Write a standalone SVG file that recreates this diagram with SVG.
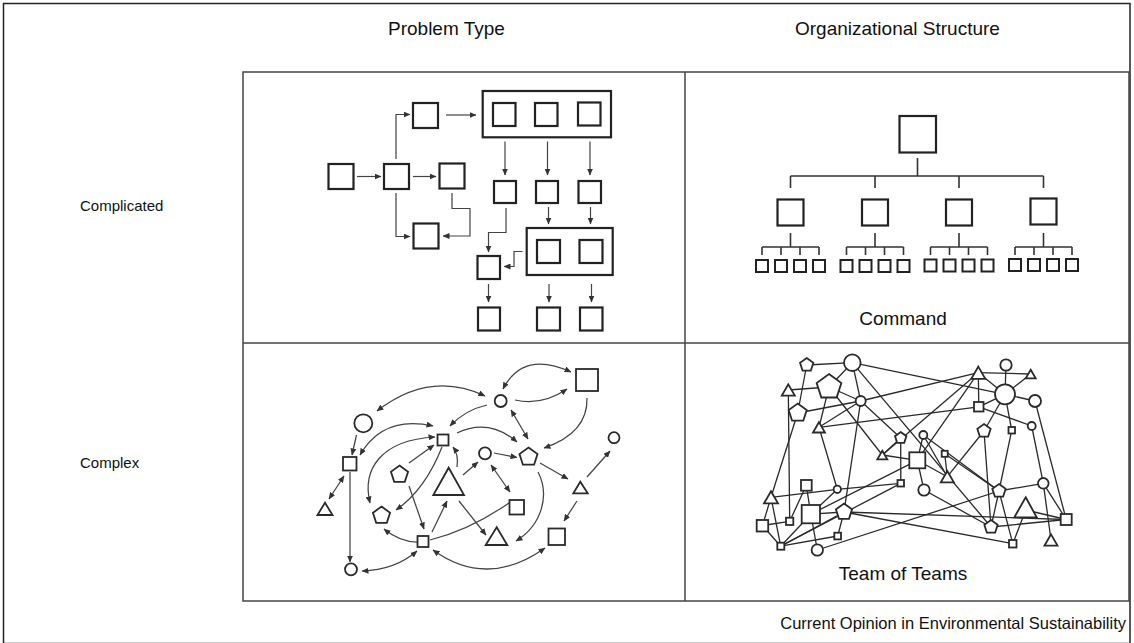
<svg xmlns="http://www.w3.org/2000/svg" width="1134" height="643" viewBox="0 0 1134 643">
  <style>
    .lbl { font-family: "Liberation Sans", Arial, Helvetica, sans-serif; font-size: 19px; fill: #111; }
    .row { font-family: "Liberation Sans", Arial, Helvetica, sans-serif; font-size: 15px; fill: #111; }
    .credit { font-family: "Liberation Sans", Arial, Helvetica, sans-serif; font-size: 16.5px; fill: #111; }
    .grid { fill: none; stroke: #444; stroke-width: 1.5; }
    .box { fill: #fff; stroke: #222; stroke-width: 2.2; }
    .sbox { fill: #fff; stroke: #222; stroke-width: 2; }
    .tree { fill: none; stroke: #333; stroke-width: 1.6; }
    .flow { fill: none; stroke: #444; stroke-width: 1.2; marker-end: url(#ah); }
    .shp { fill: #fff; stroke: #2a2a2a; stroke-width: 1.8; }
    .cur { fill: none; stroke: #444; stroke-width: 1.25; }
    .one { marker-end: url(#ah); }
    .two { marker-start: url(#ah); marker-end: url(#ah); }
    .net { stroke: #2a2a2a; stroke-width: 1.3; }
  </style>
  <defs>
    <marker id="ah" markerUnits="userSpaceOnUse" markerWidth="7" markerHeight="6" refX="6.5" refY="3" orient="auto-start-reverse">
      <path d="M0,0 L7,3 L0,6 z" fill="#333"/>
    </marker>
  </defs>

  <rect width="1134" height="643" fill="#fff"/>
  <!-- outer frame and table grid -->
  <rect x="3.5" y="3.5" width="1126.5" height="640" fill="none" stroke="#222" stroke-width="1.5"/>
  <g id="grid">
    <rect class="grid" x="243" y="72" width="886" height="529"/>
    <line class="grid" x1="685" y1="72" x2="685" y2="601"/>
    <line class="grid" x1="243" y1="343" x2="1129" y2="343"/>
  </g>

  <!-- headings -->
  <g id="headings">
    <text class="lbl" x="388" y="35">Problem Type</text>
    <text class="lbl" x="795" y="35">Organizational Structure</text>
    <text class="row" x="80" y="210.5">Complicated</text>
    <text class="row" x="80" y="467.5">Complex</text>
    <text class="credit" x="1126" y="629" text-anchor="end">Current Opinion in Environmental Sustainability</text>
  </g>

  <!-- complicated problem: flow of steps -->
  <g id="complicated-problem">
    <g id="cp-connectors">
      <path class="flow" d="M357,176.5 H381"/>
      <path class="flow" d="M413,176.5 H436"/>
      <path class="flow" d="M396,159 V114.5 H410"/>
      <path class="flow" d="M396,193 V236.5 H410"/>
      <path class="flow" d="M452,193 V208.5 H470 V236 H443"/>
      <path class="flow" d="M446,115 H476"/>
      <path class="flow" d="M505,141.5 V175"/>
      <path class="flow" d="M547.5,141.5 V175"/>
      <path class="flow" d="M590,141.5 V175"/>
      <path class="flow" d="M548.5,207 V224"/>
      <path class="flow" d="M590.5,207 V224"/>
      <path class="flow" d="M506,208 V232.5 H488.5 V252"/>
      <path class="flow" d="M522.5,251.5 H514 V266.5 H504"/>
      <path class="flow" d="M488.5,284 V302"/>
      <path class="flow" d="M549,284 V302"/>
      <path class="flow" d="M591.5,284 V302"/>
    </g>
    <g id="cp-nodes">
      <rect class="box" x="328.5" y="164" width="25" height="25"/>
      <rect class="box" x="384" y="164" width="25" height="25"/>
      <rect class="box" x="439.5" y="163.5" width="25" height="25"/>
      <rect class="box" x="413" y="103" width="25" height="25"/>
      <rect class="box" x="413.5" y="223.5" width="25" height="25"/>
      <rect class="box" x="482.7" y="91" width="128.3" height="46.3"/>
      <rect class="box" x="493" y="103" width="22.5" height="23"/>
      <rect class="box" x="535" y="103" width="22.5" height="23"/>
      <rect class="box" x="578" y="102.5" width="22.5" height="23"/>
      <rect class="box" x="494" y="181" width="22" height="22"/>
      <rect class="box" x="536" y="181" width="22" height="22"/>
      <rect class="box" x="578.5" y="181" width="22.5" height="22"/>
      <rect class="box" x="526.7" y="228" width="86" height="47"/>
      <rect class="box" x="537" y="240" width="23" height="23"/>
      <rect class="box" x="579.5" y="240" width="23" height="23"/>
      <rect class="box" x="477.5" y="256" width="22.5" height="23"/>
      <rect class="box" x="478" y="307.5" width="22" height="23"/>
      <rect class="box" x="537" y="307.5" width="23" height="23"/>
      <rect class="box" x="580" y="307.5" width="22.5" height="23"/>
    </g>
  </g>

  <!-- command hierarchy -->
  <g id="command">
    <g id="cmd-connectors">
      <path class="tree" d="M917.5,158 V176 M790.5,176 H1043.5 M790.5,176 V188 M875,176 V188 M959,176 V188 M1043.5,176 V188"/>
      <path class="tree" d="M790.5,233 V247 M762,247 H819 M762,247 V255 M781,247 V255 M800,247 V255 M819,247 V255"/>
      <path class="tree" d="M875,233 V247 M846.5,247 H903.5 M846.5,247 V255 M865.5,247 V255 M884.5,247 V255 M903.5,247 V255"/>
      <path class="tree" d="M959,233 V247 M930.5,247 H987.5 M930.5,247 V255 M949.5,247 V255 M968.5,247 V255 M987.5,247 V255"/>
      <path class="tree" d="M1043.5,233 V247 M1015,247 H1072 M1015,247 V255 M1034,247 V255 M1053,247 V255 M1072,247 V255"/>
    </g>
    <g id="cmd-nodes">
      <rect class="box" x="899.5" y="116" width="36.5" height="36.5"/>
      <rect class="box" x="777.5" y="199.5" width="26" height="26"/>
      <rect class="box" x="862" y="199.5" width="26" height="26"/>
      <rect class="box" x="946" y="199.5" width="26" height="26"/>
      <rect class="box" x="1030.5" y="198.5" width="26" height="26"/>
      <rect class="sbox" x="756" y="260" width="12" height="12"/>
      <rect class="sbox" x="775" y="260" width="12" height="12"/>
      <rect class="sbox" x="794" y="260" width="12" height="12"/>
      <rect class="sbox" x="813" y="260" width="12" height="12"/>
      <rect class="sbox" x="840.5" y="260" width="12" height="12"/>
      <rect class="sbox" x="859.5" y="260" width="12" height="12"/>
      <rect class="sbox" x="878.5" y="260" width="12" height="12"/>
      <rect class="sbox" x="897.5" y="260" width="12" height="12"/>
      <rect class="sbox" x="924.5" y="259.5" width="12" height="12"/>
      <rect class="sbox" x="943.5" y="259.5" width="12" height="12"/>
      <rect class="sbox" x="962.5" y="259.5" width="12" height="12"/>
      <rect class="sbox" x="981.5" y="259.5" width="12" height="12"/>
      <rect class="sbox" x="1009" y="259" width="12" height="12"/>
      <rect class="sbox" x="1028" y="259" width="12" height="12"/>
      <rect class="sbox" x="1047" y="259" width="12" height="12"/>
      <rect class="sbox" x="1066" y="259" width="12" height="12"/>
    </g>
    <text class="lbl" x="903" y="325" text-anchor="middle">Command</text>
  </g>

  <!-- complex problem: interacting elements -->
  <g id="complex-problem">
    <g id="cx-connectors">
      <path class="cur two" d="M485,396 Q430,370 377,411"/>
      <path class="cur two" d="M503,389 Q523,350 571,372"/>
      <path class="cur one" d="M515,400 Q542,406 567,389"/>
      <path class="cur one" d="M587,398 Q588,433 544,448"/>
      <path class="cur two" d="M511,410 L528,439"/>
      <path class="cur one" d="M487,405 Q465,410 450,426"/>
      <path class="cur one" d="M457,433 Q489,418 517,442"/>
      <path class="cur one" d="M356.5,435 L352,455"/>
      <path class="cur two" d="M433,426 Q383,415 360,455"/>
      <path class="cur two" d="M435,437 C380,440 362,470 370,503"/>
      <path class="cur one" d="M409,463 L434,445"/>
      <path class="cur one" d="M442,447 Q425,490 396,510"/>
      <path class="cur one" d="M457,467 Q459,455 453,447"/>
      <path class="cur one" d="M463,475 L478,462"/>
      <path class="cur one" d="M494,453 L517,457.5"/>
      <path class="cur two" d="M491,465 L510,492"/>
      <path class="cur one" d="M540,463 L568,479"/>
      <path class="cur one" d="M587,477 L610,451"/>
      <path class="cur one" d="M577,501 L564,521"/>
      <path class="cur one" d="M538,472 C550,495 542,525 516,541"/>
      <path class="cur" d="M430,540 Q470,530 509,503"/>
      <path class="cur one" d="M350,472 L350,562"/>
      <path class="cur two" d="M344,476 L329,499"/>
      <path class="cur one" d="M409,486 L424,529"/>
      <path class="cur one" d="M432,532 L447,501"/>
      <path class="cur one" d="M459,501 L486,535"/>
      <path class="cur one" d="M417,542 Q400,542 384,529"/>
      <path class="cur two" d="M417,551 Q395,570 362,571"/>
      <path class="cur two" d="M433,550 Q487,589 545,548"/>
    </g>
    <g id="cx-nodes">
      <rect class="shp" x="576" y="369" width="22" height="22"/>
      <circle class="shp" cx="500.7" cy="401" r="6"/>
      <circle class="shp" cx="363.3" cy="423.3" r="9"/>
      <rect class="shp" x="437.5" y="434.5" width="11" height="11"/>
      <rect class="shp" x="343" y="457" width="13.5" height="13.5"/>
      <circle class="shp" cx="485" cy="453.3" r="6"/>
      <polygon class="shp" points="528.5,447.5 537.53,454.06 534.09,464.69 522.91,464.69 519.47,454.06"/>
      <circle class="shp" cx="614" cy="437.7" r="5.5"/>
      <polygon class="shp" points="399.5,465.5 408.06,471.72 404.79,481.78 394.21,481.78 390.94,471.72"/>
      <polygon class="shp" points="448.7,467.7 464,495 433.3,495"/>
      <polygon class="shp" points="580.3,481.7 587.7,493.3 573.3,493.3"/>
      <polygon class="shp" points="325,502.7 332.5,515 317.5,515"/>
      <polygon class="shp" points="381.5,506.5 390.06,512.72 386.79,522.78 376.21,522.78 372.94,512.72"/>
      <rect class="shp" x="509.5" y="500" width="14.5" height="14.5"/>
      <rect class="shp" x="417.5" y="536" width="11" height="11"/>
      <polygon class="shp" points="496.7,527.3 507.3,545 485.7,545"/>
      <rect class="shp" x="548.5" y="528.5" width="16.5" height="16.5"/>
      <circle class="shp" cx="351" cy="569.3" r="6"/>
    </g>
  </g>

  <!-- team of teams network -->
  <g id="team-of-teams">
    <g id="tt-connectors" class="net">
      <line x1="806.7" y1="365" x2="852.3" y2="362.7"/>
      <line x1="806.7" y1="365" x2="797.7" y2="413"/>
      <line x1="852.3" y1="362.7" x2="829" y2="387"/>
      <line x1="852.3" y1="362.7" x2="860.7" y2="401"/>
      <line x1="852.3" y1="362.7" x2="1005" y2="394.3"/>
      <line x1="852.3" y1="362.7" x2="991" y2="527"/>
      <line x1="788.3" y1="390" x2="829" y2="387"/>
      <line x1="788.3" y1="390" x2="789.7" y2="521.3"/>
      <line x1="797.7" y1="413" x2="860.7" y2="401"/>
      <line x1="797.7" y1="413" x2="771" y2="497.3"/>
      <line x1="829" y1="387" x2="819" y2="427.3"/>
      <line x1="829" y1="387" x2="860.7" y2="401"/>
      <line x1="829" y1="387" x2="882.3" y2="455"/>
      <line x1="860.7" y1="401" x2="819" y2="427.3"/>
      <line x1="860.7" y1="401" x2="844" y2="512"/>
      <line x1="860.7" y1="401" x2="900.7" y2="438"/>
      <line x1="860.7" y1="401" x2="978.3" y2="372.7"/>
      <line x1="819" y1="427.3" x2="978.8" y2="406.8"/>
      <line x1="819" y1="427.3" x2="837.3" y2="489.3"/>
      <line x1="900.7" y1="438" x2="900.8" y2="483.3"/>
      <line x1="900.7" y1="438" x2="882.3" y2="455"/>
      <line x1="923.3" y1="435" x2="917.3" y2="460.3"/>
      <line x1="923.3" y1="435" x2="947.3" y2="476.7"/>
      <line x1="923.3" y1="435" x2="999" y2="491"/>
      <line x1="917.3" y1="460.3" x2="882.3" y2="455"/>
      <line x1="917.3" y1="460.3" x2="924" y2="490"/>
      <line x1="917.3" y1="460.3" x2="947.3" y2="476.7"/>
      <line x1="944.7" y1="453.8" x2="947.3" y2="476.7"/>
      <line x1="944.7" y1="453.8" x2="999" y2="491"/>
      <line x1="978.3" y1="372.7" x2="917.3" y2="460.3"/>
      <line x1="978.3" y1="372.7" x2="1005" y2="394.3"/>
      <line x1="978.3" y1="372.7" x2="1030.7" y2="374"/>
      <line x1="978.3" y1="372.7" x2="978.8" y2="406.8"/>
      <line x1="978.3" y1="372.7" x2="882.3" y2="455"/>
      <line x1="1006" y1="365" x2="1005" y2="394.3"/>
      <line x1="1005" y1="394.3" x2="1030.7" y2="374"/>
      <line x1="1005" y1="394.3" x2="1035" y2="401"/>
      <line x1="1005" y1="394.3" x2="1011.7" y2="430.3"/>
      <line x1="1005" y1="394.3" x2="978.8" y2="406.8"/>
      <line x1="1005" y1="394.3" x2="984" y2="431"/>
      <line x1="978.8" y1="406.8" x2="1031.7" y2="426"/>
      <line x1="984" y1="431" x2="947.3" y2="476.7"/>
      <line x1="984" y1="431" x2="991" y2="527"/>
      <line x1="1011.7" y1="430.3" x2="999" y2="491"/>
      <line x1="1035" y1="401" x2="1066.2" y2="519.5"/>
      <line x1="1031.7" y1="426" x2="1043.3" y2="483.3"/>
      <line x1="1043.3" y1="483.3" x2="999" y2="491"/>
      <line x1="1043.3" y1="483.3" x2="1051" y2="540"/>
      <line x1="1043.3" y1="483.3" x2="1066.2" y2="519.5"/>
      <line x1="999" y1="491" x2="991" y2="527"/>
      <line x1="999" y1="491" x2="1012.8" y2="543.7"/>
      <line x1="1025.7" y1="510" x2="1066.2" y2="519.5"/>
      <line x1="1025.7" y1="510" x2="1012.8" y2="543.7"/>
      <line x1="991" y1="527" x2="1066.2" y2="519.5"/>
      <line x1="1012.8" y1="543.7" x2="844" y2="512"/>
      <line x1="817.3" y1="550" x2="999" y2="491"/>
      <line x1="844" y1="512" x2="1066.2" y2="519.5"/>
      <line x1="810.8" y1="514.2" x2="917.3" y2="460.3"/>
      <line x1="837.3" y1="489.3" x2="900.8" y2="483.3"/>
      <line x1="771" y1="497.3" x2="837.3" y2="489.3"/>
      <line x1="806.3" y1="485.3" x2="810.8" y2="514.2"/>
      <line x1="806.3" y1="485.3" x2="789.7" y2="521.3"/>
      <line x1="762.5" y1="525.5" x2="789.7" y2="521.3"/>
      <line x1="762.5" y1="525.5" x2="780.7" y2="546.2"/>
      <line x1="762.5" y1="525.5" x2="771" y2="497.3"/>
      <line x1="780.7" y1="546.2" x2="837.7" y2="536"/>
      <line x1="780.7" y1="546.2" x2="844" y2="512"/>
      <line x1="780.7" y1="546.2" x2="810.8" y2="514.2"/>
      <line x1="780.7" y1="546.2" x2="771" y2="497.3"/>
      <line x1="817.3" y1="550" x2="810.8" y2="514.2"/>
      <line x1="924" y1="490" x2="991" y2="527"/>
      <line x1="837.7" y1="536" x2="844" y2="512"/>
      <line x1="900.8" y1="483.3" x2="780.7" y2="546.2"/>
      <line x1="844" y1="512" x2="810.8" y2="514.2"/>
      <line x1="837.3" y1="489.3" x2="810.8" y2="514.2"/>
    </g>
    <g id="tt-nodes">
      <polygon class="shp" points="806.7,358 813.36,362.84 810.82,370.66 802.58,370.66 800.04,362.84"/>
      <circle class="shp" cx="852.3" cy="362.7" r="8.3"/>
      <polygon class="shp" points="788.3,384.4 794.8,395.6 781.8,395.6"/>
      <polygon class="shp" points="829,374 841.36,382.98 836.64,397.52 821.36,397.52 816.64,382.98"/>
      <circle class="shp" cx="860.7" cy="401" r="5"/>
      <polygon class="shp" points="797.7,403.5 806.73,410.06 803.29,420.69 792.11,420.69 788.67,410.06"/>
      <polygon class="shp" points="819,422.1 825,432.5 813,432.5"/>
      <polygon class="shp" points="900.7,432 906.41,436.15 904.23,442.85 897.17,442.85 894.99,436.15"/>
      <circle class="shp" cx="923.3" cy="435" r="4"/>
      <polygon class="shp" points="882.3,450.7 887.3,459.4 877.3,459.4"/>
      <rect class="shp" x="909.3" y="452.3" width="16" height="16"/>
      <rect class="shp" x="941.7" y="450.8" width="6" height="6"/>
      <polygon class="shp" points="947.3,471 953.8,482.3 940.8,482.3"/>
      <rect class="shp" x="897.5" y="480" width="6.5" height="6.5"/>
      <circle class="shp" cx="924" cy="490" r="5.7"/>
      <polygon class="shp" points="978.3,366.6 985.3,378.8 971.3,378.8"/>
      <circle class="shp" cx="1006" cy="365" r="5.7"/>
      <polygon class="shp" points="1030.7,369.7 1035.7,378.4 1025.7,378.4"/>
      <circle class="shp" cx="1005" cy="394.3" r="10"/>
      <circle class="shp" cx="1035" cy="401" r="6"/>
      <rect class="shp" x="974" y="402" width="9.5" height="9.5"/>
      <polygon class="shp" points="984,424 990.66,428.84 988.12,436.66 979.88,436.66 977.34,428.84"/>
      <rect class="shp" x="1008.5" y="427" width="6.5" height="6.5"/>
      <circle class="shp" cx="1031.7" cy="426" r="4"/>
      <circle class="shp" cx="1043.3" cy="483.3" r="5.3"/>
      <polygon class="shp" points="999,484 1005.66,488.84 1003.12,496.66 994.88,496.66 992.34,488.84"/>
      <polygon class="shp" points="1025.7,497.3 1036.7,517.3 1014.3,517.3"/>
      <rect class="shp" x="1060.7" y="514" width="11" height="11"/>
      <polygon class="shp" points="991,520 997.66,524.84 995.12,532.66 986.88,532.66 984.34,524.84"/>
      <rect class="shp" x="1009" y="540" width="7.5" height="7.5"/>
      <polygon class="shp" points="1051,534.4 1057.5,545.6 1044.5,545.6"/>
      <polygon class="shp" points="771,491.2 778,503.4 764,503.4"/>
      <rect class="shp" x="801" y="480" width="10.7" height="10.7"/>
      <circle class="shp" cx="837.3" cy="489.3" r="3.7"/>
      <rect class="shp" x="801.7" y="505" width="18.3" height="18.3"/>
      <rect class="shp" x="786" y="517.7" width="7.3" height="7.3"/>
      <polygon class="shp" points="844,503.5 852.08,509.37 849,518.88 839,518.88 835.92,509.37"/>
      <rect class="shp" x="756.7" y="520" width="11.5" height="11.5"/>
      <rect class="shp" x="834.3" y="532.7" width="6.7" height="6.7"/>
      <rect class="shp" x="777.3" y="542.7" width="7" height="7"/>
      <circle class="shp" cx="817.3" cy="550" r="5.7"/>
    </g>
    <text class="lbl" x="903" y="580" text-anchor="middle">Team of Teams</text>
  </g>
</svg>
